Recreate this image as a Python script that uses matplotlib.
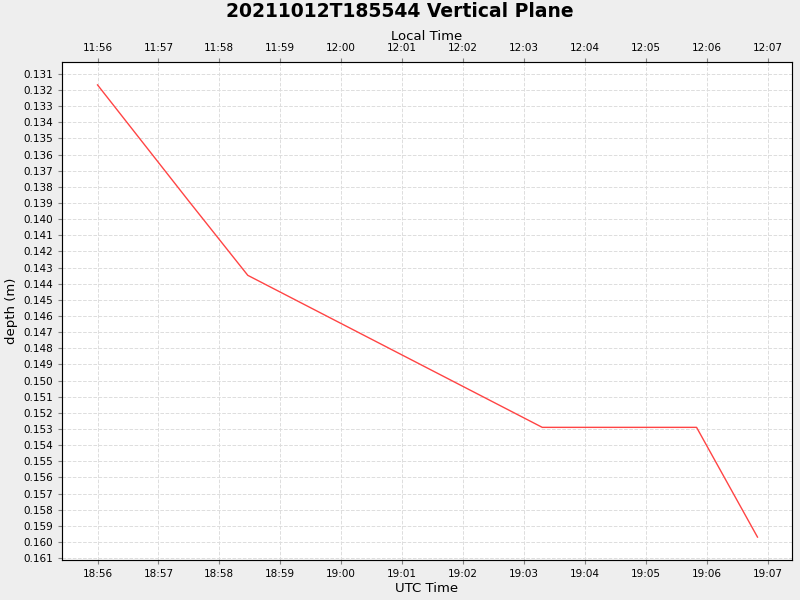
import matplotlib
matplotlib.use("Agg")
import matplotlib.pyplot as plt
from matplotlib.ticker import FixedLocator, FuncFormatter

utc_times = ["18:56:00", "18:57:29", "18:58:28", "19:03:18", "19:05:50", "19:06:50"]
depths = [0.13168, 0.13881, 0.14348, 0.15290, 0.15290, 0.15970]
utc_offset_hours = -7

def to_min(s):
    h, m, sec = map(int, s.split(":"))
    return h * 60 + m + sec / 60.0

x = [to_min(t) for t in utc_times]

fig = plt.figure(figsize=(8, 6), dpi=100, facecolor="#EEEEEE")
ax = fig.add_axes([62/800, 40/600, 730/800, 498/600])
ax.set_facecolor("white")
ax.plot(x, depths, color="#FF4444", lw=1)
ax.set_xlim(to_min("18:55:25"), to_min("19:07:24"))
ax.set_ylim(0.16112, 0.13026)

xt = [to_min("18:56:00") + i for i in range(12)]
fmt = lambda v, off=0: "%02d:%02d" % (((int(round(v)) // 60) + off) % 24, int(round(v)) % 60)
ax.xaxis.set_major_locator(FixedLocator(xt))
ax.xaxis.set_major_formatter(FuncFormatter(lambda v, p: fmt(v)))
yt = [0.131 + 0.001 * i for i in range(31)]
ax.yaxis.set_major_locator(FixedLocator(yt))
ax.yaxis.set_major_formatter(FuncFormatter(lambda v, p: "%.3f" % v))
ax.tick_params(labelsize=7.5, length=3, color="gray")
ax.grid(True, color="#DDDDDD", ls="--", lw=0.7)
for s in ax.spines.values():
    s.set_color("gray")

ax2 = ax.twiny()
ax2.set_xlim(ax.get_xlim())
ax2.xaxis.set_major_locator(FixedLocator(xt))
ax2.xaxis.set_major_formatter(FuncFormatter(lambda v, p: fmt(v, utc_offset_hours)))
ax2.tick_params(labelsize=7.5, length=3, color="gray")
ax2.set_xlabel("Local Time", fontsize=9.5, labelpad=2)
ax.set_xlabel("UTC Time", fontsize=9.5, labelpad=2)
ax.set_ylabel("depth (m)", fontsize=9.5)
fig.text(0.5, 0.997, "20211012T185544 Vertical Plane", ha="center", va="top",
         fontsize=13.5, fontweight="bold")
fig.savefig("out.png", facecolor=fig.get_facecolor())
